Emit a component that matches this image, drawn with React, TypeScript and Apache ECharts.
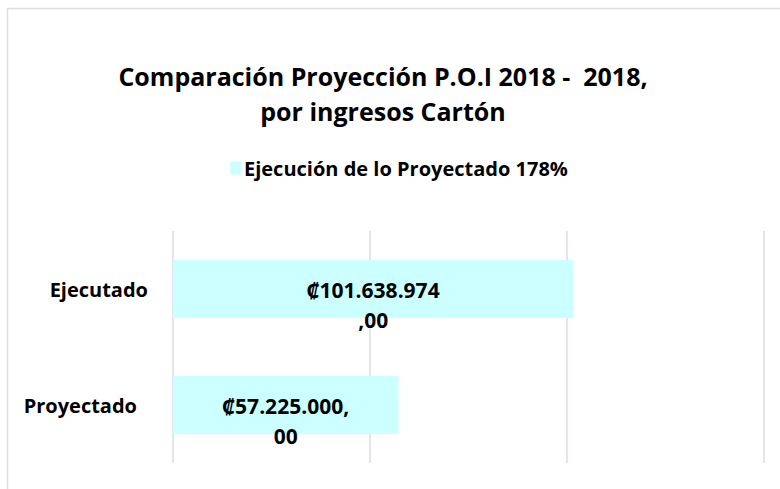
import React, { useEffect, useRef } from "react";
import * as echarts from "echarts";

const categories = ["Ejecutado", "Proyectado"];
const values = [101638974, 57225000];
const breakAfterComma = [false, true];
const seriesName = "Ejecución de lo Proyectado 178%";
const titleLines = ["Comparación Proyección P.O.I 2018 -  2018,", "por ingresos Cartón"];
const axisMax = 150000000;
const axisInterval = 50000000;

const FONT = "'Open Sans', 'Noto Sans', sans-serif";

function formatColon(v: number): string {
  const intPart = Math.floor(v).toString().replace(/\B(?=(\d{3})+(?!\d))/g, ".");
  return "₡" + intPart + ",00";
}

export default function App() {
  const ref = useRef<HTMLDivElement>(null);
  useEffect(() => {
    if (!ref.current) return;
    const chart = echarts.init(ref.current, undefined, { renderer: "svg" });
    chart.setOption({
      animation: false,
      backgroundColor: "#ffffff",
      title: {
        text: titleLines.join("\n"),
        left: 383,
        top: 58,
        padding: 0,
        textAlign: "center",
        textStyle: {
          fontFamily: FONT,
          fontWeight: "bold",
          fontSize: 25,
          lineHeight: 35,
          color: "#000000",
        },
      },
      legend: {
        left: 230,
        top: 158,
        padding: 0,
        icon: "rect",
        itemWidth: 11,
        itemHeight: 13,
        data: [seriesName],
        textStyle: {
          fontFamily: FONT,
          fontWeight: "bold",
          fontSize: 20,
          color: "#000000",
          padding: [0, 0, 0, -2],
        },
      },
      grid: { left: 173, right: 16, top: 231, bottom: 26, containLabel: false },
      xAxis: {
        type: "value",
        min: 0,
        max: axisMax,
        interval: axisInterval,
        axisLabel: { show: false },
        axisLine: { show: false },
        axisTick: { show: false },
        splitLine: { show: true, lineStyle: { color: "#D9DDE6", width: 1.5 } },
      },
      yAxis: {
        type: "category",
        inverse: true,
        data: categories,
        axisLine: { show: false },
        axisTick: { show: false },
        axisLabel: {
          margin: 25,
          formatter: (v: string, i: number) => (i === 0 ? `{a|${v}}` : `{b|${v}}`),
          rich: {
            a: { fontFamily: FONT, fontWeight: "bold", fontSize: 20, color: "#000" },
            b: { fontFamily: FONT, fontWeight: "bold", fontSize: 20, color: "#000", padding: [0, 11, 0, 0] },
          },
        },
      },
      series: [
        {
          name: seriesName,
          type: "bar",
          data: values,
          barWidth: "50%",
          itemStyle: { color: "#CCFFFF" },
          label: {
            show: true,
            position: "inside",
            offset: [0, 16],
            align: "center",
            fontFamily: FONT,
            fontWeight: "bold",
            fontSize: 21,
            lineHeight: 30,
            color: "#000000",
            formatter: (p: any) => {
              const s = formatColon(p.value);
              const idx = s.indexOf(",");
              return breakAfterComma[p.dataIndex]
                ? s.slice(0, idx + 1) + "\n" + s.slice(idx + 1)
                : s.slice(0, idx) + "\n" + s.slice(idx);
            },
          },
        },
      ],
      graphic: [
        {
          type: "rect",
          shape: { x: 7.5, y: 8.5, width: 900, height: 600 },
          style: { fill: "none", stroke: "#D9DDE6", lineWidth: 1.5 },
          silent: true,
        },
      ],
    });
    return () => chart.dispose();
  }, []);
  return (
    <div
      ref={ref}
      style={{ position: "absolute", left: 0, top: 0, width: 780, height: 489 }}
    />
  );
}
